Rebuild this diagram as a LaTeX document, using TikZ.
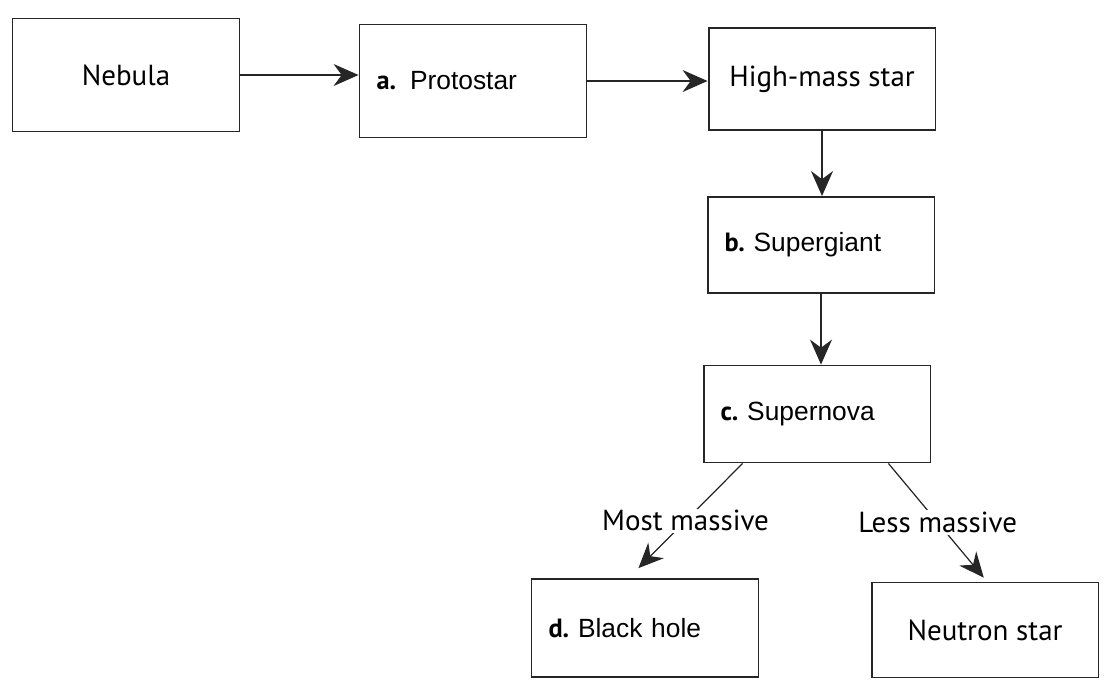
\documentclass[tikz,border=0pt]{standalone}
\usepackage{fontspec}
\setmainfont{PT Sans}
\newfontfamily\answerfont{Liberation Sans}
\usetikzlibrary{arrows.meta,calc}

\tikzset{
  stage/.style={draw=black!85, line width=1.1pt, minimum width=4.54cm,
    minimum height=2cm, inner sep=0pt, font=\fontsize{16.5}{20}\selectfont},
  answer/.style={stage, align=left, text width=3.86cm, inner xsep=0.34cm,
    font=\fontsize{15}{18}\selectfont\answerfont},
  flow/.style={-{Stealth[length=0.5cm,width=0.44cm]}, line width=0.7pt, black!85},
  branch/.style={font=\fontsize{16.5}{20}\selectfont, text=black, fill=white, inner sep=1pt}
}
\newcommand{\stagelabel}[1]{{\rmfamily\bfseries #1}}

\begin{document}
\begin{tikzpicture}[x=0.02cm, y=-0.02cm]
            \useasboundingbox (0,0) rectangle (1104,681);
            % Top row
            \node[stage, minimum height=2.26cm] (nebula) at (126,75) {Nebula};
            \node[answer, minimum height=2.26cm] (proto) at (473,81) {\stagelabel{a.}\hspace{0.28cm}Protostar};
            \node[stage, minimum height=2.04cm] (highmass) at (822,79) {High-mass star};
            % Column below the high-mass star
            \node[answer, minimum height=1.92cm] (giant) at (821,245) {\stagelabel{b.}~Supergiant};
            \node[answer, minimum height=1.94cm] (nova) at (817,414) {\stagelabel{c.}~Supernova};
            % End states
            \node[answer, minimum height=1.96cm] (hole) at (645,628) {\stagelabel{d.}~Black hole};
            \node[stage, minimum height=1.9cm] (neutron) at (985,630) {Neutron star};
            % Arrows
            \draw[flow] (nebula.east) -- (nebula.east -| proto.west);
            \draw[flow] (proto.east) -- (proto.east -| highmass.west);
            \draw[flow] (highmass.south) -- (highmass.south |- giant.north);
            \draw[flow] (giant.south) -- (giant.south |- nova.north);
            % Branches after the supernova
            \draw[flow, shorten >=0.28cm] ($(nova.south west)+(40,0)$)
              -- node[branch] {Most massive} ($(hole.north west)+(98,0)$);
            \draw[flow, shorten >=0.1cm] ($(nova.south east)+(-43,0)$)
              -- node[branch] {Less massive} ($(neutron.north)+(2,0)$);
        \end{tikzpicture}
\end{document}
